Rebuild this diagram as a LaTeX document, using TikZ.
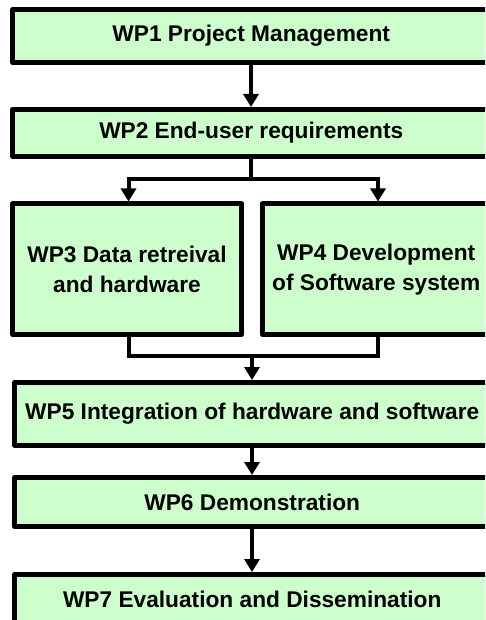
\documentclass[tikz,border=0pt]{standalone}
\usepackage{fontspec}
\setmainfont{Liberation Sans}
\usetikzlibrary{arrows.meta}
\definecolor{boxfill}{HTML}{CCFFCC}
\tikzset{
  wpbox/.style={draw=black, fill=boxfill, line width=5pt, line join=round, rectangle, inner sep=0pt, align=center,
     font=\fontsize{22.7pt}{30pt}\selectfont\bfseries},
  conn/.style={draw=black, line width=4pt, line join=miter},
  arr/.style={conn, -{Triangle[width=15pt,length=13pt]}}
}
\begin{document}
\begin{tikzpicture}[x=1pt,y=-1pt]
\useasboundingbox (0,0) rectangle (485,620);
\clip (0,0) rectangle (485,620);
\node[wpbox, minimum width=477.5pt, minimum height=53pt] (wp1) at (251.25,36) {WP1 Project Management};
\node[wpbox, minimum width=477.5pt, minimum height=47pt] (wp2) at (251.25,133) {WP2 End-user requirements};
\node[wpbox, minimum width=229pt, minimum height=130.5pt] (wp3) at (127,269.25) {WP3 Data retreival\\and hardware};
\node[wpbox, minimum width=227.5pt, minimum height=130.5pt] (wp4) at (376.25,269.25) {WP4 Development\\of Software system};
\node[wpbox, minimum width=475.5pt, minimum height=62.5pt] (wp5) at (252.25,413.75) {WP5 Integration of hardware and software};
\node[wpbox, minimum width=475.5pt, minimum height=49pt] (wp6) at (252.25,502) {WP6 Demonstration};
\node[wpbox, minimum width=475.5pt, minimum height=50pt] (wp7) at (252.25,599.5) {WP7 Evaluation and Dissemination};
% connectors
\coordinate (top) at (251,0);
\draw[arr] (wp1.south -| top) -- (wp2.north -| top);
\coordinate (split) at (251,179);
\coordinate (sl) at (128.5,179);
\coordinate (sr) at (378,179);
\draw[conn] (wp2.south -| split) -- (split);
\draw[arr] (split) -| (sl |- wp3.north);
\draw[arr] (split) -| (sr |- wp4.north);
\coordinate (jl) at (128.5,355.5);
\coordinate (jr) at (378,355.5);
\coordinate (join) at (252,355.5);
\draw[conn] (wp3.south -| jl) |- (jr) -- (wp4.south -| jr);
\draw[arr] (join) -- (join |- wp5.north);
\draw[arr] (wp5.south -| join) -- (wp6.north -| join);
\draw[arr] (wp6.south -| join) -- (wp7.north -| join);
\end{tikzpicture}
\end{document}
